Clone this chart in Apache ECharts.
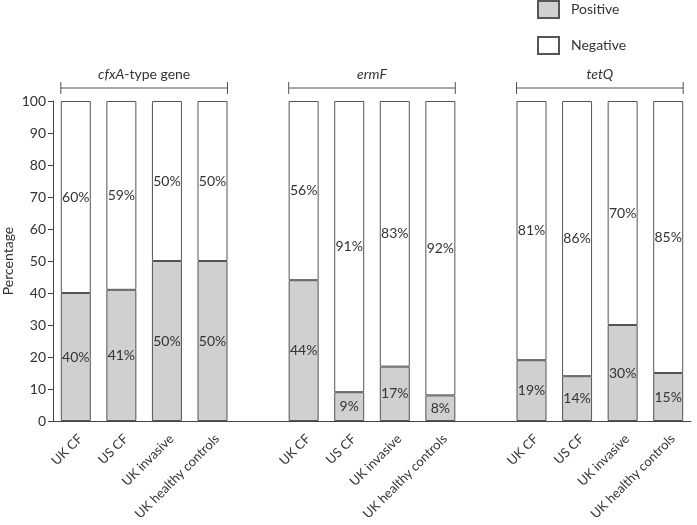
<!DOCTYPE html>
<html>
<head>
<meta charset="utf-8">
<script src="https://cdn.jsdelivr.net/npm/echarts@6/dist/echarts.min.js"></script>
<style>
  html, body { margin: 0; padding: 0; background: #fff; }
  #chart { width: 697px; height: 525px; }
</style>
</head>
<body>
<div id="chart"></div>
<script>
const cohorts = ["UK CF", "US CF", "UK invasive", "UK healthy controls"];
const genes = ["cfxA", "ermF", "tetQ"];

const positiveCfxA = [40, 41, 50, 50];
const positiveErmF = [44, 9, 17, 8];
const positiveTetQ = [19, 14, 30, 15];

const negativeCfxA = [60, 59, 50, 50];
const negativeErmF = [56, 91, 83, 92];
const negativeTetQ = [81, 86, 70, 85];

const yMin = 0;
const yMax = 100;
const yStep = 10;

// one empty slot between gene groups
const categories = [];
const positive = [];
const negative = [];
[[positiveCfxA, negativeCfxA], [positiveErmF, negativeErmF], [positiveTetQ, negativeTetQ]].forEach((pair, g) => {
  if (g > 0) {
    categories.push(" ".repeat(g));
    positive.push(null);
    negative.push(null);
  }
  cohorts.forEach((c, i) => {
    categories.push(c);
    positive.push(pair[0][i]);
    negative.push(pair[1][i]);
  });
});

const font = "Lato";
const textColor = "#333";
const lineColor = "#444";

const chart = echarts.init(document.getElementById("chart"));

const barLabel = {
  show: true,
  position: "inside",
  formatter: (p) => p.value + "%",
  color: textColor,
  fontFamily: font,
  fontSize: 14,
};

chart.setOption({
  animation: false,
  textStyle: { fontFamily: font },
  grid: { left: 53, right: 6, top: 101, bottom: 104, containLabel: false, outerBoundsMode: "none" },
  legend: {
    left: 537,
    top: 0,
    padding: 0,
    orient: "vertical",
    itemWidth: 21,
    itemHeight: 17,
    itemGap: 17,
    textStyle: { color: textColor, fontSize: 14, fontFamily: font, padding: [0, 0, 0, 7] },
    data: [{ name: "Positive", icon: "rect" }, { name: "Negative", icon: "rect" }],
  },
  xAxis: {
    type: "category",
    data: categories,
    axisLine: { lineStyle: { color: lineColor, width: 1 } },
    axisTick: { alignWithLabel: true, length: 5, lineStyle: { color: lineColor } },
    axisLabel: {
      rotate: 45,
      verticalAlign: "top",
      color: textColor,
      fontSize: 13,
      fontFamily: font,
      margin: 11,
      interval: 0,
    },
  },
  yAxis: {
    type: "value",
    min: yMin,
    max: yMax,
    interval: yStep,
    name: "Percentage",
    nameLocation: "middle",
    nameGap: 38,
    nameMoveOverlap: false,
    nameTextStyle: { color: textColor, fontSize: 14, fontFamily: font },
    splitLine: { show: false },
    axisLine: { show: true, lineStyle: { color: lineColor, width: 1 } },
    axisTick: { show: true, length: 5, lineStyle: { color: lineColor } },
    axisLabel: { color: textColor, fontSize: 14, fontFamily: font, margin: 7 },
  },
  series: [
    {
      name: "Positive",
      type: "bar",
      stack: "total",
      barWidth: 30,
      data: positive,
      itemStyle: { color: "#d0d0d0", borderColor: "#555", borderWidth: 1 },
      label: barLabel,
    },
    {
      name: "Negative",
      type: "bar",
      stack: "total",
      barWidth: 30,
      data: negative,
      itemStyle: { color: "#fff", borderColor: "#555", borderWidth: 1 },
      label: barLabel,
    },
  ],
});

// group brackets above each gene, placed from the axis scale
const topY = chart.convertToPixel({ yAxisIndex: 0 }, yMax);
const half = 15;
const graphics = [];
genes.forEach((gene, g) => {
  const first = g * (cohorts.length + 1);
  const last = first + cohorts.length - 1;
  const x1 = chart.convertToPixel({ xAxisIndex: 0 }, first) - half;
  const x2 = chart.convertToPixel({ xAxisIndex: 0 }, last) + half;
  const y = topY - 13;
  const stroke = { stroke: "#555", lineWidth: 1 };
  graphics.push(
    { type: "line", shape: { x1: x1, y1: y, x2: x2, y2: y }, style: stroke, silent: true },
    { type: "line", shape: { x1: x1, y1: y - 6, x2: x1, y2: y + 6 }, style: stroke, silent: true },
    { type: "line", shape: { x1: x2, y1: y - 6, x2: x2, y2: y + 6 }, style: stroke, silent: true }
  );
  const text = gene === "cfxA" ? "{i|cfxA}-type gene" : "{i|" + gene + "}";
  graphics.push({
    type: "text",
    x: (x1 + x2) / 2,
    y: y - 14,
    silent: true,
    style: {
      text: text,
      align: "center",
      verticalAlign: "middle",
      fill: textColor,
      font: "14px " + font,
      rich: { i: { fontStyle: "italic", fontSize: 14, fontFamily: font, fill: textColor } },
    },
  });
});
chart.setOption({ graphic: graphics });
</script>
</body>
</html>
